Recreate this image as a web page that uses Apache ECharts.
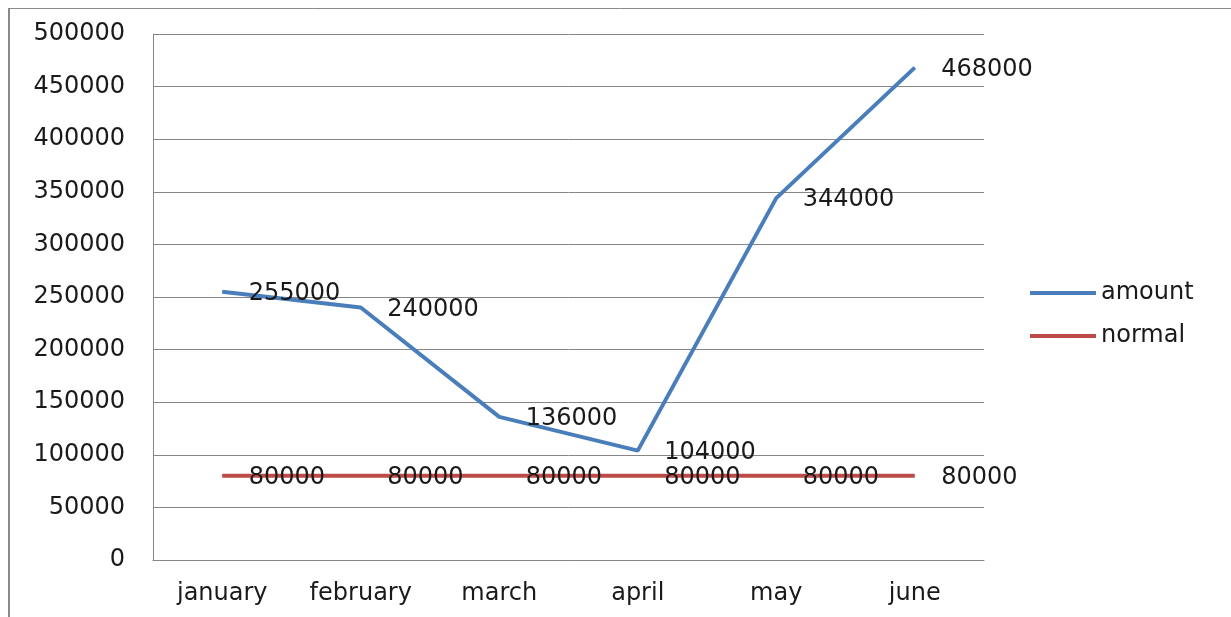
<!DOCTYPE html>
<html>
<head>
<meta charset="utf-8">
<script src="https://cdn.jsdelivr.net/npm/echarts@6/dist/echarts.min.js"></script>
<style>
html,body{margin:0;padding:0;background:#fff;}
#c{width:1231px;height:617px;}
</style>
</head>
<body>
<div id="c"></div>
<script>
var categories = ['january', 'february', 'march', 'april', 'may', 'june'];
var amount = [255000, 240000, 136000, 104000, 344000, 468000];
var normal = [80000, 80000, 80000, 80000, 80000, 80000];
var yMin = 0, yMax = 500000, yStep = 50000;

var FONT = 'DejaVu Sans';
var FS = 24;
var chart = echarts.init(document.getElementById('c'));
chart.setOption({
  animation: false,
  backgroundColor: '#fff',
  graphic: [
    {type: 'line', shape: {x1: 8, y1: 8.5, x2: 1231, y2: 8.5}, style: {stroke: '#8a8a8a', lineWidth: 1}},
    {type: 'line', shape: {x1: 9, y1: 8, x2: 9, y2: 617}, style: {stroke: '#8a8a8a', lineWidth: 2}}
  ],
  grid: {left: 153, right: 247, top: 34, bottom: 57, containLabel: false},
  legend: {
    orient: 'vertical',
    left: 1030,
    top: 281,
    padding: 0,
    itemWidth: 66,
    itemHeight: 4,
    itemGap: 19,
    icon: 'rect',
    textStyle: {fontFamily: FONT, fontSize: FS, color: '#1a1a1a'},
    data: ['amount', 'normal']
  },
  xAxis: {
    type: 'category',
    data: categories,
    boundaryGap: true,
    axisLine: {show: true, lineStyle: {color: '#868686', width: 1}},
    axisTick: {show: false},
    axisLabel: {fontFamily: FONT, fontSize: FS, color: '#1a1a1a', margin: 22},
    splitLine: {show: false}
  },
  yAxis: {
    type: 'value',
    min: yMin, max: yMax, interval: yStep,
    axisLine: {show: true, lineStyle: {color: '#868686', width: 1}},
    axisTick: {show: false},
    axisLabel: {fontFamily: FONT, fontSize: FS, color: '#1a1a1a', margin: 28, formatter: function (v) { return String(v); }},
    splitLine: {show: true, lineStyle: {color: '#868686', width: 1}}
  },
  series: [
    {
      name: 'amount', type: 'line', data: amount,
      symbol: 'circle', symbolSize: 1, showSymbol: true,
      lineStyle: {color: '#4a7ebb', width: 4},
      itemStyle: {color: '#4a7ebb'},
      label: {show: true, position: 'right', distance: 26, offset: [0, 2], fontFamily: FONT, fontSize: FS, color: '#1a1a1a'},
      emphasis: {disabled: true}, z: 3
    },
    {
      name: 'normal', type: 'line', data: normal,
      symbol: 'circle', symbolSize: 1, showSymbol: true,
      lineStyle: {color: '#be4b48', width: 4},
      itemStyle: {color: '#be4b48'},
      label: {show: true, position: 'right', distance: 26, offset: [0, 2], fontFamily: FONT, fontSize: FS, color: '#1a1a1a'},
      emphasis: {disabled: true}, z: 2
    }
  ]
});
</script>
</body>
</html>
